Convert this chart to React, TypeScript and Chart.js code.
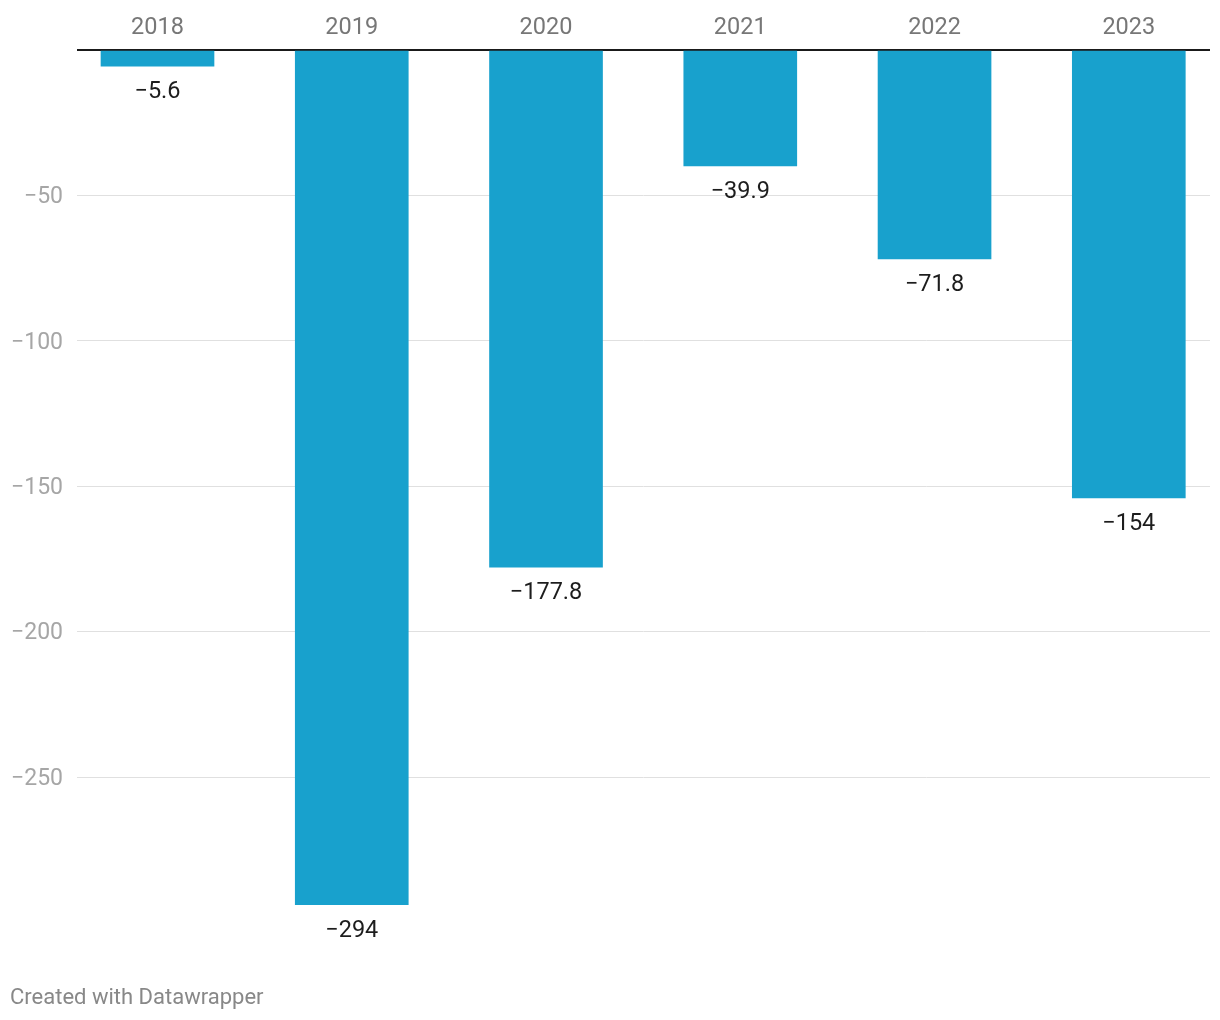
import React, { useEffect, useRef } from "react";
import { Chart, registerables } from "chart.js";

Chart.register(...registerables);

const years = ["2018", "2019", "2020", "2021", "2022", "2023"];
const values = [-5.6, -294, -177.8, -39.9, -71.8, -154];
const yTicks = [0, -50, -100, -150, -200, -250];

const FONT = "Roboto, 'Noto Sans', sans-serif";

const fmt = (v: number) => (v < 0 ? "\u2212" + String(Math.abs(v)) : String(v));

const valueLabels = {
  id: "valueLabels",
  afterDatasetsDraw(chart: any) {
    const ctx = chart.ctx;
    const meta = chart.getDatasetMeta(0);
    ctx.save();
    ctx.font = `23.5px ${FONT}`;
    ctx.fillStyle = "#1d1d1d";
    ctx.textAlign = "center";
    ctx.textBaseline = "middle";
    meta.data.forEach((el: any, i: number) => {
      ctx.fillText(fmt(values[i]), el.x, el.y + 26);
    });
    ctx.restore();
  },
};

export default function App() {
  const ref = useRef<HTMLCanvasElement | null>(null);
  useEffect(() => {
    if (!ref.current) return;
    const chart = new Chart(ref.current, {
      type: "bar",
      data: {
        datasets: [
          {
            data: values.map((v, i) => ({ x: i, y: v })),
            backgroundColor: "#18a1cd",
            barThickness: 113,
            borderWidth: 0,
          },
        ],
      },
      options: {
        animation: false,
        responsive: true,
        maintainAspectRatio: false,
        layout: { padding: { left: 0, right: 10, top: 0, bottom: 115 } },
        plugins: { legend: { display: false }, tooltip: { enabled: false } },
        scales: {
          x: {
            type: "linear",
            position: "top",
            offset: false,
            min: -0.4144,
            max: 5.418,
            grid: { display: false, drawTicks: false, offset: false },
            border: { display: false },
            afterBuildTicks: (scale: any) => {
              scale.ticks = years.map((_, i) => ({ value: i }));
            },
            afterFit: (scale: any) => {
              scale.height = 50;
            },
            ticks: {
              autoSkip: false,
              maxRotation: 0,
              padding: 8,
              color: "#777777",
              font: { family: FONT, size: 23.5 },
              callback: (v: any) => years[Number(v)] ?? "",
            },
          },
          y: {
            type: "linear",
            min: -294,
            max: 0,
            grid: {
              drawTicks: false,
              color: (c: any) => (c.tick && c.tick.value === 0 ? "#1a1a1a" : "#e0e0e0"),
              lineWidth: (c: any) => (c.tick && c.tick.value === 0 ? 2 : 1),
            },
            border: { display: false },
            afterBuildTicks: (scale: any) => {
              scale.ticks = yTicks.map((v) => ({ value: v }));
            },
            afterFit: (scale: any) => {
              scale.width = 77;
            },
            ticks: {
              padding: 14,
              labelOffset: 2,
              color: "#a6a6a6",
              font: { family: FONT, size: 23 },
              callback: (v: any) => (Number(v) === 0 ? "" : fmt(Number(v))),
            },
          },
        },
      },
      plugins: [valueLabels],
    });
    return () => chart.destroy();
  }, []);
  return (
    <div style={{ position: "fixed", left: 0, top: 0, width: 1220, height: 1020, background: "#fff" }}>
      <canvas ref={ref} />
      <div
        style={{
          position: "absolute",
          left: 10,
          top: 983,
          fontFamily: FONT,
          fontSize: 22,
          color: "#888888",
          lineHeight: "28px",
        }}
      >
        Created with Datawrapper
      </div>
    </div>
  );
}
